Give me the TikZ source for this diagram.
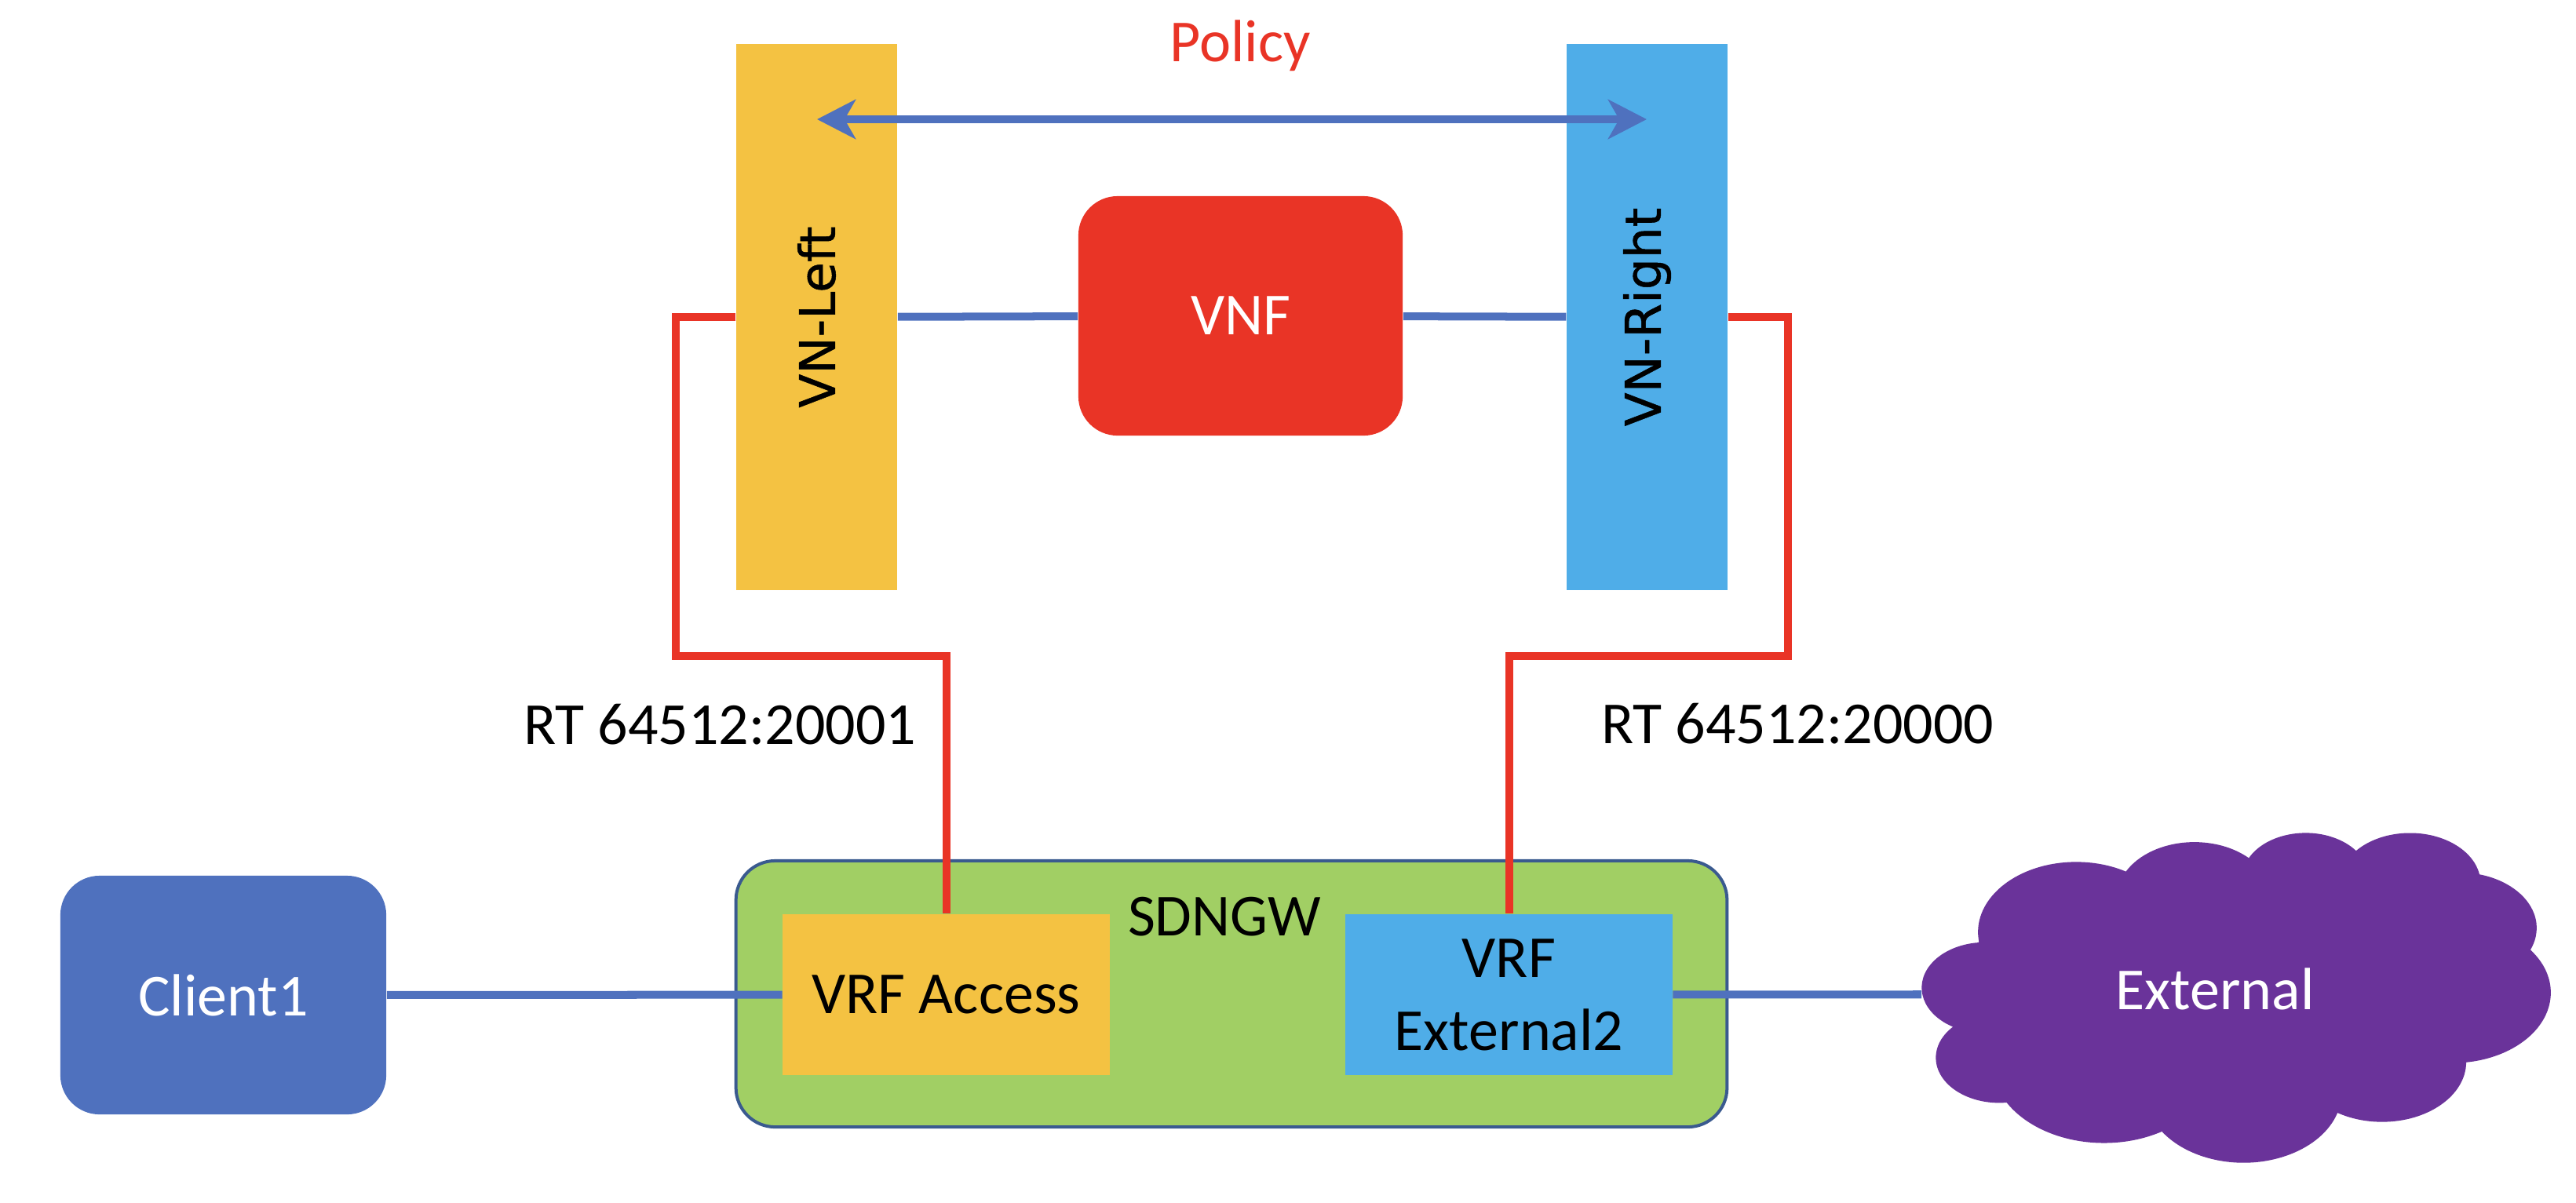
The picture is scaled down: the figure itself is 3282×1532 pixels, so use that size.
\documentclass[tikz,border=0pt]{standalone}
\usepackage{fontspec}
\setmainfont{Carlito}
\newfontface\vnfont{DejaVu Sans}[FakeBold=0.8]
\usetikzlibrary{arrows.meta}
\definecolor{vyellow}{HTML}{F4C242}
\definecolor{vblue}{HTML}{4FADE8}
\definecolor{vred}{HTML}{E93426}
\definecolor{lblue}{HTML}{4F71BE}
\definecolor{vgreen}{HTML}{A1CF64}
\definecolor{vpurple}{HTML}{6A339A}
\definecolor{vborder}{HTML}{3A5A8F}
\tikzset{polarrow/.tip={Stealth[length=0.49cm,width=0.5cm,inset=0.14cm]}}
\begin{document}
\begin{tikzpicture}[x=0.01cm,y=-0.01cm,
  lbl/.style={font=\fontsize{21.6}{26.4}\selectfont, inner sep=0pt, align=center},
  vnlbl/.style={font=\vnfont\fontsize{17.9}{20}\selectfont, inner sep=0pt, rotate=90},
  bar/.style={rectangle, inner sep=0pt, minimum width=2.05cm, minimum height=6.96cm},
  vrfbox/.style={rectangle, inner sep=0pt, minimum width=4.16cm, minimum height=2.05cm},
  rbox/.style={rectangle, rounded corners=0.5cm, inner sep=0pt},
  redline/.style={draw=vred, line width=0.1cm},
  blueline/.style={draw=lblue, line width=0.1cm}
]
\useasboundingbox (0,0) rectangle (3282,1532);

% top bars and VNF
\node[bar, fill=vyellow] (vnl) at (1040.5,404) {};
\node[bar, fill=vblue] (vnr) at (2098.5,404) {};
\node[vnlbl] (vnltext) at (vnl) {VN-Left};
\node[vnlbl] (vnrtext) at (vnr) {VN-Right};
\node[rbox, fill=vred, minimum width=4.13cm, minimum height=3.05cm] (vnf) at (1580.5,402.5) {};
\node[lbl, text=white] (vnftext) at (vnf) {VNF};

% policy
\node[lbl, text=vred, anchor=base] (policy) at (1580,78) {Policy};
\coordinate (polL) at (1041,152);
\coordinate (polR) at (2098,152);
\draw[blueline, polarrow-polarrow] (polL) -- (polR);

% VNF links
\draw[blueline] (vnl) -- (vnf);
\draw[blueline] (vnf) -- (vnr);

% SDNGW
\node[rbox, fill=vgreen, draw=vborder, line width=0.04cm, minimum width=12.62cm, minimum height=3.39cm] (sdngw) at (1569,1266.5) {};
\node[lbl, anchor=base] (sdngwtext) at (1560,1192) {SDNGW};
\node[rbox, fill=lblue, minimum width=4.15cm, minimum height=3.04cm] (client) at (284.5,1268) {};
\node[lbl, text=white] (clienttext) at (client) {Client1};

% cloud
\begin{scope}[shift={(2449,1060)}, x=0.1852cm, y=-0.0972cm]
\fill[vpurple] (3.9,14.37)
  \foreach \w/\h/\s/\d in {6.753/9.190/-190.4875/123.7805,
    5.333/7.267/-144.1024/89.9452,
    4.365/5.945/-145.8079/99.7230,
    4.857/6.595/-130.9861/117.2417,
    5.333/7.273/-78.7089/109.0269,
    6.775/9.220/-46.2673/130.2690,
    5.785/7.867/0.6250/114.0333,
    6.752/9.215/22.4516/115.1726,
    7.720/10.543/66.2426/75.7110,
    4.360/5.918/-274.9421/146.7356,
    4.345/5.945/-246.8285/152.5189}
  { arc[x radius=\w, y radius=\h,
        start angle={atan2(\w*sin(\s),\h*cos(\s))},
        delta angle={mod(atan2(\w*sin(\s+\d),\h*cos(\s+\d))-atan2(\w*sin(\s),\h*cos(\s))+720,360)}] }
  -- cycle;
\end{scope}
\node[rectangle, minimum width=8cm, minimum height=4.2cm, inner sep=0pt] (cloud) at (2849,1267) {};
\node[lbl, text=white] (exttext) at (2822,1260) {External};

\node[vrfbox, fill=vyellow] (vrfacc) at (1205.5,1267.5) {};
\node[vrfbox, fill=vblue] (vrfext) at (1922.5,1267.5) {};

% lines to gateways
\draw[blueline] (client) -- (vrfacc);
\draw[blueline] (vrfext) -- (cloud);

\node[lbl] (vrfacctext) at (vrfacc) {VRF Access};
\node[lbl] (vrfexttext) at (vrfext) {VRF\\External2};

% red RT links
\coordinate (lbend) at (861,836);
\coordinate (rbend) at (2278,836);
\draw[redline] (vnl.west) -| (lbend) -| (vrfacc.north);
\draw[redline] (vnr.east) -| (rbend) -| (vrfext.north);
\node[lbl, anchor=base] (rtl) at (917,948) {RT 64512:20001};
\node[lbl, anchor=base] (rtr) at (2290,947) {RT 64512:20000};
\end{tikzpicture}
\end{document}
